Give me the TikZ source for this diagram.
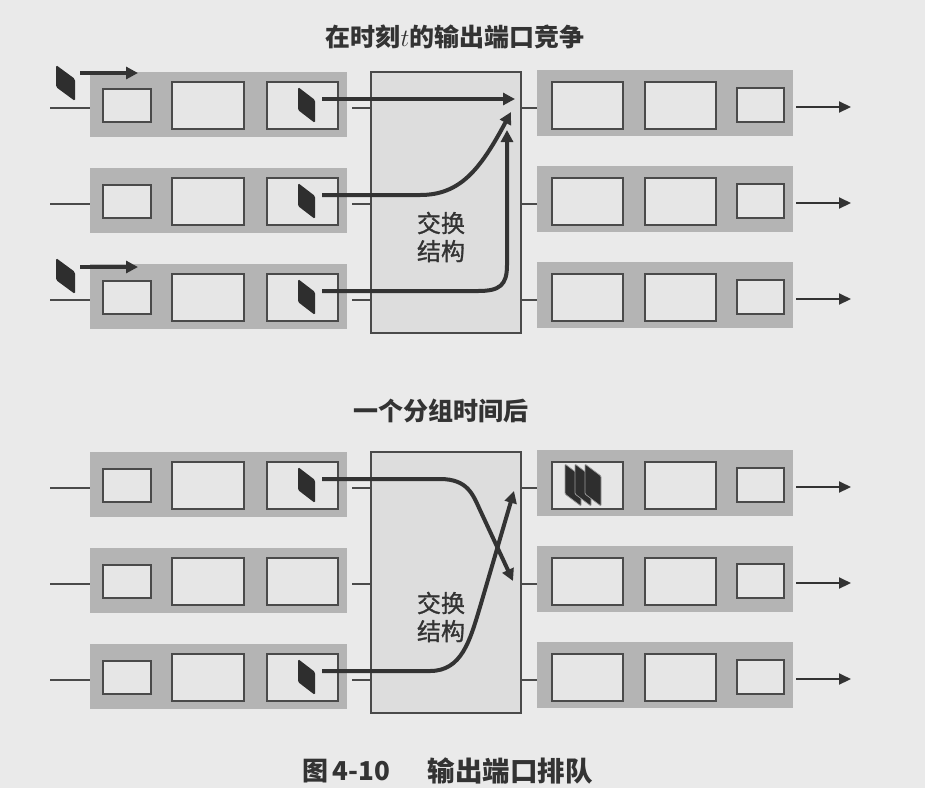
\documentclass[tikz,border=0pt]{standalone}
\usepackage{fontspec}
\newfontfamily\cjk{Noto Sans CJK SC}
\newfontfamily\cjkm[FakeBold=1.2]{Noto Sans CJK SC}
\usetikzlibrary{arrows.meta}
\definecolor{bgc}{HTML}{EAEAEA}
\definecolor{bandc}{HTML}{B4B4B4}
\definecolor{boxc}{HTML}{E6E6E6}
\definecolor{linec}{HTML}{4A4A4A}
\definecolor{inkc}{HTML}{333333}
\definecolor{pktc}{HTML}{2E2E2E}
\tikzset{
  band/.style={fill=bandc, draw=none, inner sep=0pt, outer sep=0pt},
  qbox/.style={fill=boxc, draw=linec, line width=1.8pt, inner sep=0pt, outer sep=0pt},
  switchbox/.style={fill=boxc!96!black, draw=linec, line width=1.5pt, inner sep=0pt, outer sep=0pt,
    minimum width=150, minimum height=261},
  port/.style={draw=linec, line width=1.6pt},
  flow/.style={draw=inkc, line width=4pt, -{Triangle[length=12pt,width=12pt]}},
  inflow/.style={draw=inkc, line width=4.5pt, -{Triangle[length=12pt,width=12pt]}},
  outarrow/.style={draw=inkc, line width=2pt, -{Triangle[length=12pt,width=11pt]}},
  lbl/.style={text=inkc, inner sep=0pt, align=center},
  pkt/.pic={\fill[pktc, rounded corners=1.5pt] (0,0) -- (17,13) -- (17,36) -- (0,23) -- cycle;
            \coordinate (-out) at (24,12);},
  bigpkt/.pic={\fill[pktc, rounded corners=1.5pt] (0,0) -- (19,14) -- (19,36) -- (0,22) -- cycle;},
  spkt/.pic={\fill[pktc, draw=boxc!60!pktc, line width=0.7pt, rounded corners=1pt] (0,0) -- (16,12) -- (16,42) -- (0,30) -- cycle;}
}
\begin{document}
\begin{tikzpicture}[x=1pt,y=-1pt]
\fill[bgc] (0,0) rectangle (925,788);
\useasboundingbox (0,0) rectangle (925,788);

% titles
\node[lbl, font=\cjk\bfseries\fontsize{25}{30}\selectfont] (title1) at (455,37)
  {在时刻$t$的输出端口竞争};
\node[lbl, font=\cjk\bfseries\fontsize{25}{30}\selectfont] (title2) at (441,411)
  {一个分组时间后};
\node[lbl, font=\cjk\bfseries\fontsize{26}{30}\selectfont] (cap1) at (346,771) {图\,4-10};
\node[lbl, font=\cjk\bfseries\fontsize{27.5}{30}\selectfont] (cap2) at (510,771) {输出端口排队};

\foreach \p/\dy in {t/0,b/380} {
  \node[switchbox] (sw-\p) at (446,202.5+\dy) {};
  \foreach \r in {1,2,3} {
    \pgfmathsetmacro{\yc}{108+96*(\r-1)+\dy}
    % input side
    \node[band, minimum width=257, minimum height=65] (inb-\p\r) at (218.5,\yc-3.5) {};
    \node[qbox, minimum width=48, minimum height=33] (ia-\p\r) at (127,\yc-2.5) {};
    \node[qbox, minimum width=72, minimum height=47] (ib-\p\r) at (208,\yc-2.5) {};
    \node[qbox, minimum width=71, minimum height=47] (ic-\p\r) at (302.5,\yc-2.5) {};
    \coordinate (inl-\p\r) at (50,\yc);
    \draw[port] (inl-\p\r) -- (inl-\p\r -| inb-\p\r.west);
    \coordinate (pl-\p\r) at (352,\yc);
    \draw[port] (pl-\p\r) -- (pl-\p\r -| sw-\p.west);
    % output side
    \coordinate (ol-\p\r) at (539,\yc);
    \draw[port] (ol-\p\r -| sw-\p.east) -- (ol-\p\r);
    \node[band, minimum width=256, minimum height=66] (outb-\p\r) at (665,\yc-5) {};
    \node[qbox, minimum width=71, minimum height=47] (oa-\p\r) at (587.5,\yc-2.5) {};
    \node[qbox, minimum width=71, minimum height=47] (ob-\p\r) at (680.5,\yc-2.5) {};
    \node[qbox, minimum width=47, minimum height=34] (oc-\p\r) at (760.5,\yc-3) {};
    \coordinate (os-\p\r) at (796,\yc-1);
    \coordinate (oe-\p\r) at (851,\yc-1);
    \draw[outarrow] (os-\p\r) -- (oe-\p\r);
  }
  \node[lbl, font=\cjkm\fontsize{24}{28}\selectfont] (fab-\p) at (441,238+\dy-1) {交换\\结构};
}

% ---------- top panel packets ----------
\pic (pt1) at (298,87) {pkt};
\pic (pt2) at (298,183) {pkt};
\pic (pt3) at (298,279) {pkt};
\pic (ext1) at (56,65) {bigpkt};
\pic (ext3) at (56,258) {bigpkt};
\coordinate (ea1) at (80,73);  \coordinate (eb1) at (138,73);
\coordinate (ea3) at (80,267); \coordinate (eb3) at (138,267);
\draw[inflow] (ea1) -- (eb1);
\draw[inflow] (ea3) -- (eb3);

\coordinate (tt1) at (515,99);
\coordinate (tt2) at (511,112);
\coordinate (tt3) at (507,130);
\draw[flow] (pt1-out) -- (tt1);
\draw[flow] (pt2-out) -- (420,195) .. controls (460,195) and (480,170) .. (tt2);
\draw[flow] (pt3-out) -- (478,291) .. controls (500,291) and (507,285) .. (507,265) -- (tt3);

% ---------- bottom panel packets ----------
\pic (pb1) at (298,467) {pkt};
\pic (pb3) at (298,659) {pkt};
\pic at (565,464) {spkt};
\pic at (575,464) {spkt};
\pic at (585,464) {spkt};

\coordinate (bt1) at (513,581);
\coordinate (bt3) at (514,491);
\draw[flow] (pb1-out) -- (440,479) .. controls (468,479) and (473,495) .. (480,510) -- (bt1);
\draw[flow] (pb3-out) -- (430,671) .. controls (462,671) and (470,640) .. (480,607) -- (bt3);
\end{tikzpicture}
\end{document}
